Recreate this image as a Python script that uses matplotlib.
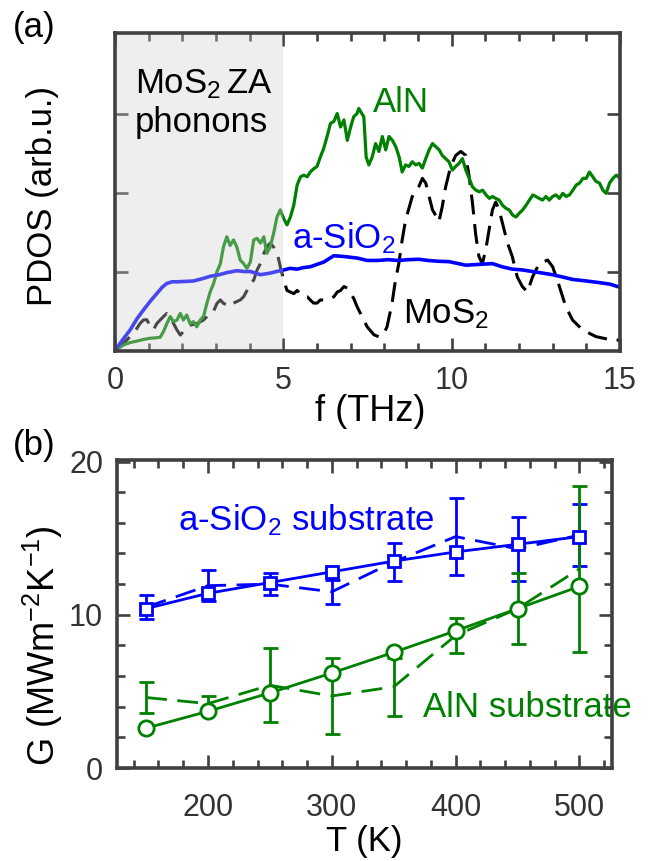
import numpy as np
import matplotlib
matplotlib.use('Agg')
import matplotlib.pyplot as plt
from matplotlib.ticker import MultipleLocator, FixedLocator

plt.rcParams['font.family'] = ['Liberation Sans', 'DejaVu Sans']
plt.rcParams['mathtext.fontset'] = 'custom'
plt.rcParams['mathtext.rm'] = 'Liberation Sans'
plt.rcParams['mathtext.it'] = 'Liberation Sans:italic'
plt.rcParams['mathtext.bf'] = 'Liberation Sans:bold'

# ---------------- panel (a) data: PDOS (arb.u.) vs f (THz) ----------------
aln_f = [0.0, 0.25, 0.45, 0.65, 0.85, 1.04, 1.2, 1.34, 1.44, 1.54, 1.64, 1.74, 1.84, 1.94,
         2.03, 2.13, 2.23, 2.33, 2.43, 2.53, 2.63, 2.73, 2.83, 2.93, 3.03, 3.13, 3.22, 3.32,
         3.42, 3.52, 3.62, 3.72, 3.82, 3.92, 4.02, 4.12, 4.22, 4.32, 4.42, 4.51, 4.61, 4.71,
         4.81, 4.91, 5.01, 5.11, 5.21, 5.31, 5.41, 5.51, 5.61, 5.71, 5.80, 5.90, 6.00, 6.10,
         6.20, 6.30, 6.40, 6.50, 6.60, 6.70, 6.80, 6.90, 7.00, 7.09, 7.19, 7.24, 7.39, 7.46,
         7.54, 7.64, 7.74, 7.84, 7.94, 8.04, 8.14, 8.24, 8.34, 8.44, 8.53, 8.63, 8.73, 8.83,
         8.93, 9.03, 9.13, 9.23, 9.33, 9.43, 9.53, 9.63, 9.72, 9.82, 9.92, 10.02, 10.12, 10.22,
         10.32, 10.42, 10.52, 10.62, 10.72, 10.82, 10.92, 11.02, 11.12, 11.21, 11.31, 11.41,
         11.51, 11.61, 11.71, 11.81, 11.91, 12.01, 12.11, 12.21, 12.31, 12.41, 12.50, 12.60,
         12.70, 12.80, 12.90, 13.00, 13.10, 13.20, 13.30, 13.40, 13.50, 13.60, 13.70, 13.80,
         13.90, 14.00, 14.09, 14.19, 14.29, 14.39, 14.49, 14.59, 14.69, 14.79, 14.89, 15.0]
aln_pdos = [0.0, 0.07, 0.10, 0.12, 0.14, 0.155, 0.16, 0.167, 0.24, 0.34, 0.43, 0.365, 0.386, 0.47,
            0.386, 0.45, 0.34, 0.365, 0.30, 0.386, 0.43, 0.60, 0.745, 0.85, 1.00, 1.10, 1.31, 1.44,
            1.33, 1.40, 1.31, 1.145, 1.10, 1.04, 1.12, 1.40, 1.42, 1.36, 1.44, 1.23, 1.31, 1.48,
            1.69, 1.78, 1.67, 1.59, 1.69, 1.84, 2.095, 2.20, 2.22, 2.20, 2.26, 2.30, 2.33, 2.45,
            2.56, 2.71, 2.875, 2.90, 3.00, 2.83, 2.92, 2.66, 2.83, 2.96, 3.00, 3.065, 2.96, 2.45,
            2.35, 2.45, 2.62, 2.52, 2.71, 2.54, 2.71, 2.66, 2.58, 2.45, 2.26, 2.35, 2.33, 2.39,
            2.35, 2.37, 2.31, 2.43, 2.54, 2.62, 2.58, 2.54, 2.47, 2.43, 2.39, 2.285, 2.33, 2.37,
            2.43, 2.285, 2.18, 2.07, 2.03, 2.01, 2.03, 1.97, 1.926, 1.95, 1.926, 1.905,
            1.84, 1.80, 1.78, 1.715, 1.69, 1.74, 1.78, 1.84, 1.905, 1.97, 1.95, 1.926,
            1.905, 1.95, 1.905, 1.95, 1.97, 1.926, 1.99, 1.95, 1.97, 2.03, 2.095, 2.12,
            2.18, 2.18, 2.26, 2.20, 2.14, 2.12, 2.03, 1.99, 2.12, 2.18, 2.22, 2.18]

sio2_f = [0.0, 0.2, 0.45, 0.65, 0.84, 1.04, 1.24, 1.4, 1.54, 1.7, 1.83, 2.1, 2.33, 2.6, 2.83,
          3.1, 3.32, 3.62, 3.85, 4.02, 4.32, 4.61, 4.8, 5.01, 5.2, 5.41, 5.6, 5.8, 6.0, 6.2,
          6.35, 6.5, 6.8, 7.0, 7.2, 7.49, 7.8, 8.1, 8.43, 8.7, 9.03, 9.3, 9.6, 9.92, 10.2,
          10.42, 10.8, 11.21, 11.5, 11.8, 12.1, 12.4, 12.7, 12.99, 13.3, 13.59, 14.0, 14.38,
          14.7, 15.0]
sio2_pdos = [0.0, 0.12, 0.26, 0.40, 0.51, 0.62, 0.72, 0.80, 0.85, 0.87, 0.87, 0.875, 0.88, 0.91,
             0.94, 0.96, 0.986, 1.01, 1.00, 1.00, 0.96, 0.98, 1.00, 1.02, 1.04, 1.03, 1.05, 1.06,
             1.09, 1.12, 1.16, 1.20, 1.19, 1.18, 1.17, 1.14, 1.14, 1.15, 1.14, 1.15, 1.155, 1.14,
             1.13, 1.125, 1.10, 1.08, 1.09, 1.10, 1.06, 1.03, 1.02, 1.00, 0.98, 0.96, 0.93, 0.90,
             0.88, 0.86, 0.84, 0.80]

mos2_f = [0.0, 0.25, 0.45, 0.65, 0.74, 0.84, 0.94, 1.04, 1.14, 1.24, 1.34, 1.44, 1.54, 1.64,
          1.74, 1.84, 1.94, 2.03, 2.13, 2.23, 2.43, 2.63, 2.73, 2.83, 2.93, 3.03, 3.13, 3.22,
          3.32, 3.42, 3.52, 3.62, 3.72, 3.82, 3.92, 4.02, 4.12, 4.22, 4.32, 4.42, 4.51, 4.61,
          4.71, 4.81, 4.91, 5.01, 5.11, 5.21, 5.31, 5.41, 5.51, 5.61, 5.71, 5.80, 5.90, 6.00,
          6.10, 6.20, 6.30, 6.40, 6.50, 6.60, 6.70, 6.80, 6.90, 7.00, 7.09, 7.19, 7.29, 7.39,
          7.49, 7.69, 7.85, 7.99, 8.08, 8.23, 8.33, 8.43, 8.53, 8.63, 8.73, 8.83, 8.93, 9.03,
          9.13, 9.23, 9.33, 9.43, 9.52, 9.62, 9.72, 9.82, 9.97, 10.12, 10.27, 10.42, 10.52,
          10.62, 10.71, 10.81, 10.91, 11.01, 11.11, 11.21, 11.31, 11.41, 11.51, 11.66, 11.80,
          11.95, 12.10, 12.25, 12.40, 12.60, 12.85, 13.00, 13.20, 13.39, 13.59, 13.89, 14.29,
          14.68, 15.0]
mos2_pdos = [0.0, 0.09, 0.175, 0.28, 0.34, 0.386, 0.39, 0.32, 0.26, 0.34, 0.386, 0.43, 0.47, 0.43,
             0.34, 0.26, 0.195, 0.24, 0.30, 0.32, 0.34, 0.386, 0.43, 0.49, 0.50, 0.597, 0.64, 0.597,
             0.58, 0.555, 0.60, 0.62, 0.64, 0.68, 0.76, 0.85, 0.89, 1.02, 1.10, 1.23, 1.31, 1.36,
             1.31, 1.25, 1.06, 0.89, 0.76, 0.74, 0.72, 0.76, 0.72, 0.68, 0.68, 0.64, 0.60, 0.60,
             0.64, 0.64, 0.66, 0.66, 0.68, 0.74, 0.76, 0.81, 0.79, 0.72, 0.66, 0.555, 0.47, 0.386,
             0.30, 0.20, 0.17, 0.22, 0.30, 0.60, 0.89, 1.10, 1.40, 1.65, 1.80, 1.95, 2.02, 2.08,
             2.18, 2.12, 1.95, 1.78, 1.715, 1.63, 1.82, 2.07, 2.33, 2.47, 2.52, 2.47, 2.20,
             1.86, 1.48, 1.19, 1.10, 1.27, 1.525, 1.78, 1.88, 1.78, 1.61, 1.36, 1.19,
             0.93, 0.81, 0.74, 0.93, 1.10, 1.145, 1.06, 0.81, 0.555, 0.386, 0.26, 0.175,
             0.14, 0.13]

# ---------------- panel (b) data: G (MW m^-2 K^-1) vs T (K) ----------------
T = [150, 200, 250, 300, 350, 400, 450, 500]
sio2_model = [10.4, 11.4, 12.1, 12.8, 13.5, 14.1, 14.6, 15.1]
sio2_exp = [10.5, 11.9, 12.0, 11.5, 13.45, 15.1, 14.3, 15.2]
sio2_err = [0.8, 1.0, 0.7, 0.8, 1.25, 2.5, 2.1, 2.0]
aln_model = [2.6, 3.7, 4.9, 6.2, 7.55, 8.95, 10.4, 11.85]
aln_exp = [4.6, 4.2, 5.4, 4.7, 5.3, 8.65, 10.4, 13.0]
aln_err = [1.0, 0.5, 2.4, 2.5, 1.9, 1.15, 2.3, 5.4]

BLUE = '#0000ff'
GREEN = '#008000'
FRAME = '#404040'
TXT = 25

W, H = 649, 861
fig = plt.figure(figsize=(W / 100, H / 100), dpi=100)


def rect(l, t, r, b):
    return [l / W, 1 - b / H, (r - l) / W, (b - t) / H]


ax1 = fig.add_axes(rect(115, 33, 620, 350.5))
ax2 = fig.add_axes(rect(117, 460, 612, 768))


def style(ax):
    for s in ax.spines.values():
        s.set_linewidth(2.6)
        s.set_color(FRAME)
        s.set_zorder(5)
    ax.tick_params(which='both', direction='in', top=True, right=True, color=FRAME,
                   width=1.9, labelcolor='#333333', labelsize=22)
    ax.tick_params(which='major', length=9.5)
    ax.tick_params(which='minor', length=5.5)


# ---- panel (a)
style(ax1)
ax1.plot(mos2_f, mos2_pdos, color='black', lw=2.2, dashes=(6.5, 3.2), zorder=2)
ax1.plot(aln_f, aln_pdos, color=GREEN, lw=2.3, zorder=2.1)
ax1.plot(sio2_f, sio2_pdos, color=BLUE, lw=2.6, zorder=2.2)
ax1.axvspan(0, 5, facecolor='#cfcfcf', alpha=0.35, lw=0, zorder=2.4)
ax1.set_xlim(0, 15)
ax1.set_ylim(0, 4.02)
ax1.xaxis.set_major_locator(MultipleLocator(5))
ax1.xaxis.set_minor_locator(MultipleLocator(1))
ax1.yaxis.set_major_locator(FixedLocator([1, 2, 3]))
ax1.tick_params(axis='y', labelleft=False)
ax1.tick_params(axis='x', pad=11)

ax1.text(0.04, 0.811, r'MoS$_2\,$ZA', transform=ax1.transAxes, fontsize=TXT, va='baseline')
ax1.text(0.04, 0.689, 'phonons', transform=ax1.transAxes, fontsize=TXT, va='baseline')
ax1.text(0.511, 0.752, 'AlN', transform=ax1.transAxes, fontsize=TXT, va='baseline', color=GREEN)
ax1.text(0.35, 0.322, r'a-SiO$_2$', transform=ax1.transAxes, fontsize=TXT, va='baseline', color=BLUE)
ax1.text(0.571, 0.0857, r'MoS$_2$', transform=ax1.transAxes, fontsize=TXT, va='baseline', color='black')

# ---- panel (b)
style(ax2)
ax2.errorbar(T, sio2_exp, yerr=sio2_err, color=BLUE, lw=2.0, dashes=(7.5, 3.8),
             elinewidth=2.0, capsize=5.4, capthick=2.0, zorder=2)
ax2.errorbar(T, aln_exp, yerr=aln_err, color=GREEN, lw=2.0, dashes=(7.5, 3.8),
             elinewidth=2.0, capsize=5.4, capthick=2.0, zorder=2)
ax2.plot(T, sio2_model, '-s', color=BLUE, lw=2.0, ms=9, mfc='white', mew=2.0, zorder=3)
ax2.plot(T, aln_model, '-o', color=GREEN, lw=2.0, ms=11, mfc='white', mew=2.0, zorder=3)
ax2.set_xlim(126.5, 526.3)
ax2.set_ylim(0, 20.1)
ax2.xaxis.set_major_locator(FixedLocator([200, 300, 400, 500]))
ax2.xaxis.set_minor_locator(MultipleLocator(20))
ax2.yaxis.set_major_locator(FixedLocator([0, 10, 20]))
ax2.yaxis.set_minor_locator(MultipleLocator(2))
ax2.tick_params(axis='x', pad=18)
ax2.tick_params(axis='y', pad=10)

ax2.text(0.123, 0.773, r'a-SiO$_2$ substrate', transform=ax2.transAxes, fontsize=TXT,
         va='baseline', color=BLUE)
ax2.text(0.618, 0.1667, 'AlN substrate', transform=ax2.transAxes, fontsize=TXT,
         va='baseline', color=GREEN)

# ---- labels
fig.text(370 / W, 1 - 411 / H, 'f (THz)', fontsize=26, ha='center', va='center')
fig.text(364 / W, 1 - 842 / H, 'T (K)', fontsize=TXT, ha='center', va='center')
fig.text(43 / W, 1 - 196.5 / H, 'PDOS (arb.u.)', fontsize=TXT, rotation=90,
         ha='center', va='center')
fig.text(43 / W, 1 - 646 / H, r'G (MWm$^{-2}$K$^{-1}$)', fontsize=26, rotation=90,
         ha='center', va='center')
fig.text(13 / W, 1 - 27 / H, '(a)', fontsize=TXT, ha='left', va='center')
fig.text(13 / W, 1 - 445 / H, '(b)', fontsize=TXT, ha='left', va='center')

fig.savefig('out.png', dpi=100)
